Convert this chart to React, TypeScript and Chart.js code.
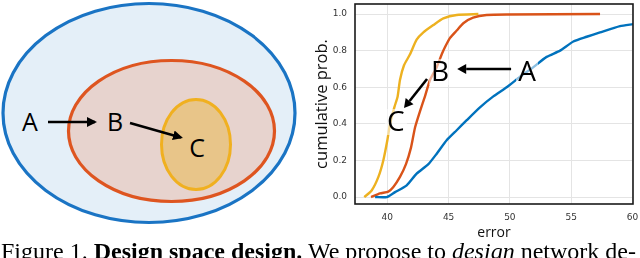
import React, { useEffect, useRef } from "react";
import { Chart, registerables } from "chart.js";

Chart.register(...registerables);

// Series C (yellow)
const cErr = [38.12, 38.72, 39.27, 39.67, 40.0, 40.22, 40.57, 40.84, 41.03, 41.36, 41.85, 42.39, 42.94, 43.76, 44.57, 45.66, 47.43];
const cProb = [0.0, 0.036, 0.11, 0.2, 0.31, 0.4, 0.49, 0.55, 0.64, 0.72, 0.78, 0.86, 0.9, 0.94, 0.976, 0.995, 1.0];
// Series B (red)
const bErr = [38.67, 39.4, 40.08, 40.49, 41.03, 41.52, 41.93, 42.26, 42.67, 43.07, 43.48, 44.03, 44.44, 44.71, 45.12, 45.66, 46.2, 47.0, 48.1, 49.74, 57.36];
const bProb = [0.0, 0.02, 0.03, 0.055, 0.11, 0.18, 0.27, 0.38, 0.47, 0.55, 0.64, 0.71, 0.78, 0.82, 0.87, 0.91, 0.95, 0.98, 0.995, 0.998, 1.0];
// Series A (blue)
const aErr = [39.0, 39.95, 40.63, 41.58, 42.39, 43.35, 44.03, 44.84, 45.66, 46.48, 47.56, 48.65, 49.74, 50.83, 51.92, 53.0, 54.1, 55.18, 56.27, 57.36, 58.99, 60.05];
const aProb = [0.0, 0.0, 0.027, 0.064, 0.128, 0.18, 0.237, 0.31, 0.365, 0.42, 0.49, 0.55, 0.6, 0.657, 0.71, 0.766, 0.8, 0.85, 0.876, 0.9, 0.934, 0.945];

const xTicks = [40, 45, 50, 55, 60];
const yTicks = [0.0, 0.2, 0.4, 0.6, 0.8, 1.0];

// Annotations in data coordinates
const letterText = ["A", "B", "C"];
const letterX = [51.4, 44.3, 40.7];
const letterY = [0.683, 0.683, 0.41];
const arrowFromX = [50.1, 43.24];
const arrowFromY = [0.70, 0.645];
const arrowToX = [45.7, 41.36];
const arrowToY = [0.70, 0.486];

const toPts = (xs: number[], ys: number[]) => xs.map((x, i) => ({ x, y: ys[i] }));

function drawArrow(ctx: CanvasRenderingContext2D, x1: number, y1: number, x2: number, y2: number) {
  const ang = Math.atan2(y2 - y1, x2 - x1);
  const head = 9;
  const hw = 5;
  const bx = x2 - head * Math.cos(ang);
  const by = y2 - head * Math.sin(ang);
  ctx.beginPath();
  ctx.moveTo(x1, y1);
  ctx.lineTo(bx, by);
  ctx.lineWidth = 2.6;
  ctx.strokeStyle = "#000";
  ctx.stroke();
  ctx.beginPath();
  ctx.moveTo(x2, y2);
  ctx.lineTo(bx + hw * Math.sin(ang), by - hw * Math.cos(ang));
  ctx.lineTo(bx - hw * Math.sin(ang), by + hw * Math.cos(ang));
  ctx.closePath();
  ctx.fillStyle = "#000";
  ctx.fill();
}

const overlayPlugin = {
  id: "overlay",
  afterDraw(chart: any) {
    const { ctx, chartArea, scales } = chart;
    ctx.save();
    ctx.lineWidth = 1.6;
    ctx.strokeStyle = "#1a1a1a";
    ctx.strokeRect(chartArea.left, chartArea.top, chartArea.right - chartArea.left, chartArea.bottom - chartArea.top);
    ctx.font = "28px 'Open Sans'";
    ctx.textAlign = "center";
    ctx.textBaseline = "middle";
    letterText.forEach((t, i) => {
      const px = scales.x.getPixelForValue(letterX[i]);
      const py = scales.y.getPixelForValue(letterY[i]);
      ctx.fillStyle = "rgba(255,255,255,0.55)";
      ctx.fillRect(px - 11, py - 13, 22, 26);
    });
    letterText.forEach((t, i) => {
      const px = scales.x.getPixelForValue(letterX[i]);
      const py = scales.y.getPixelForValue(letterY[i]);
      ctx.fillStyle = "#000";
      ctx.fillText(t, px, py + 1);
    });
    arrowFromX.forEach((fx, i) => {
      drawArrow(
        ctx,
        scales.x.getPixelForValue(fx),
        scales.y.getPixelForValue(arrowFromY[i]),
        scales.x.getPixelForValue(arrowToX[i]),
        scales.y.getPixelForValue(arrowToY[i])
      );
    });
    ctx.restore();
  },
};

const zeroPad = (s: any) => {
  s.paddingTop = 0;
  s.paddingBottom = 0;
  s.paddingLeft = 0;
  s.paddingRight = 0;
};

function CdfChart() {
  const ref = useRef<HTMLCanvasElement>(null);
  useEffect(() => {
    const ds = (xs: number[], ys: number[], color: string) => ({
      data: toPts(xs, ys),
      borderColor: color,
      borderWidth: 2.4,
      pointRadius: 0,
      fill: false,
      tension: 0.2,
    });
    const chart = new Chart(ref.current!, {
      type: "line",
      data: {
        datasets: [
          ds(aErr, aProb, "#0072BD"),
          ds(bErr, bProb, "#D95319"),
          ds(cErr, cProb, "#EDB120"),
        ],
      },
      options: {
        animation: false,
        responsive: false,
        layout: { padding: { left: 0, top: 4, right: 7, bottom: 0 } },
        plugins: { legend: { display: false }, tooltip: { enabled: false } },
        scales: {
          x: {
            type: "linear",
            min: 37.36,
            max: 60.05,
            afterBuildTicks: (s: any) => { s.ticks = xTicks.map((v) => ({ value: v })); },
            afterFit: (s: any) => { s.height = 36; zeroPad(s); },
            grid: { color: "#e4e4e4", lineWidth: 1, drawTicks: false },
            border: { display: false },
            ticks: { padding: 8, color: "#333", font: { family: "DejaVu Sans", size: 9 }, callback: (v: any) => String(v) },
            title: { display: true, text: "error", color: "#111", font: { family: "Open Sans", size: 14, lineHeight: 1 }, padding: { top: 0, bottom: 0 } },
          },
          y: {
            type: "linear",
            min: -0.038,
            max: 1.055,
            afterBuildTicks: (s: any) => { s.ticks = yTicks.map((v) => ({ value: v })); },
            afterFit: (s: any) => { s.width = 55; zeroPad(s); },
            grid: { color: "#e4e4e4", lineWidth: 1, drawTicks: false },
            border: { display: false },
            ticks: { padding: 8, color: "#333", font: { family: "DejaVu Sans", size: 9 }, callback: (v: any) => Number(v).toFixed(1) },
            title: { display: true, text: "cumulative prob.", color: "#111", font: { family: "Open Sans", size: 16.5, lineHeight: 1 }, padding: { top: 14, bottom: 0 } },
          },
        },
      },
      plugins: [overlayPlugin],
    });
    return () => chart.destroy();
  }, []);
  return (
    <canvas
      ref={ref}
      width={340}
      height={240}
      style={{ position: "absolute", left: 300, top: 0, width: 340, height: 240 }}
    />
  );
}

function Diagram() {
  const letter = { fontFamily: "'Open Sans'", fontSize: 25, fill: "#000" } as any;
  return (
    <svg width={300} height={230} style={{ position: "absolute", left: 0, top: 0 }}>
      <defs>
        <marker id="ah" markerWidth="4" markerHeight="4" refX="3.2" refY="2" orient="auto" markerUnits="strokeWidth">
          <path d="M0,0 L4,2 L0,4 z" fill="#000" />
        </marker>
      </defs>
      <ellipse cx={149} cy={113} rx={146} ry={109.5} fill="#e4eff8" stroke="#1a74c4" strokeWidth={3.2} />
      <ellipse cx={171.5} cy={131} rx={103} ry={70.5} fill="#e7d3ce" stroke="#de5520" strokeWidth={3.2} />
      <ellipse cx={196} cy={144.5} rx={34.5} ry={45} fill="#e8c589" stroke="#f0b020" strokeWidth={3} />
      <line x1={48} y1={122} x2={95} y2={122} stroke="#000" strokeWidth={2.5} markerEnd="url(#ah)" />
      <line x1={130} y1={123} x2={181} y2={137.5} stroke="#000" strokeWidth={2.5} markerEnd="url(#ah)" />
      <text x={30} y={131} textAnchor="middle" style={letter}>A</text>
      <text x={115} y={131} textAnchor="middle" style={letter}>B</text>
      <text x={197} y={157} textAnchor="middle" style={letter}>C</text>
    </svg>
  );
}

export default function App() {
  return (
    <div style={{ position: "fixed", left: 0, top: 0, width: 640, height: 258, background: "#fff", overflow: "hidden" }}>
      <Diagram />
      <CdfChart />
      <div
        style={{
          position: "absolute",
          left: 1,
          top: 239,
          whiteSpace: "nowrap",
          fontFamily: "'Liberation Serif', serif",
          fontSize: 24,
          lineHeight: "24px",
          color: "#000",
        }}
      >
        Figure 1. <b>Design space design.</b> We propose to <i>design</i> network de-
      </div>
    </div>
  );
}
